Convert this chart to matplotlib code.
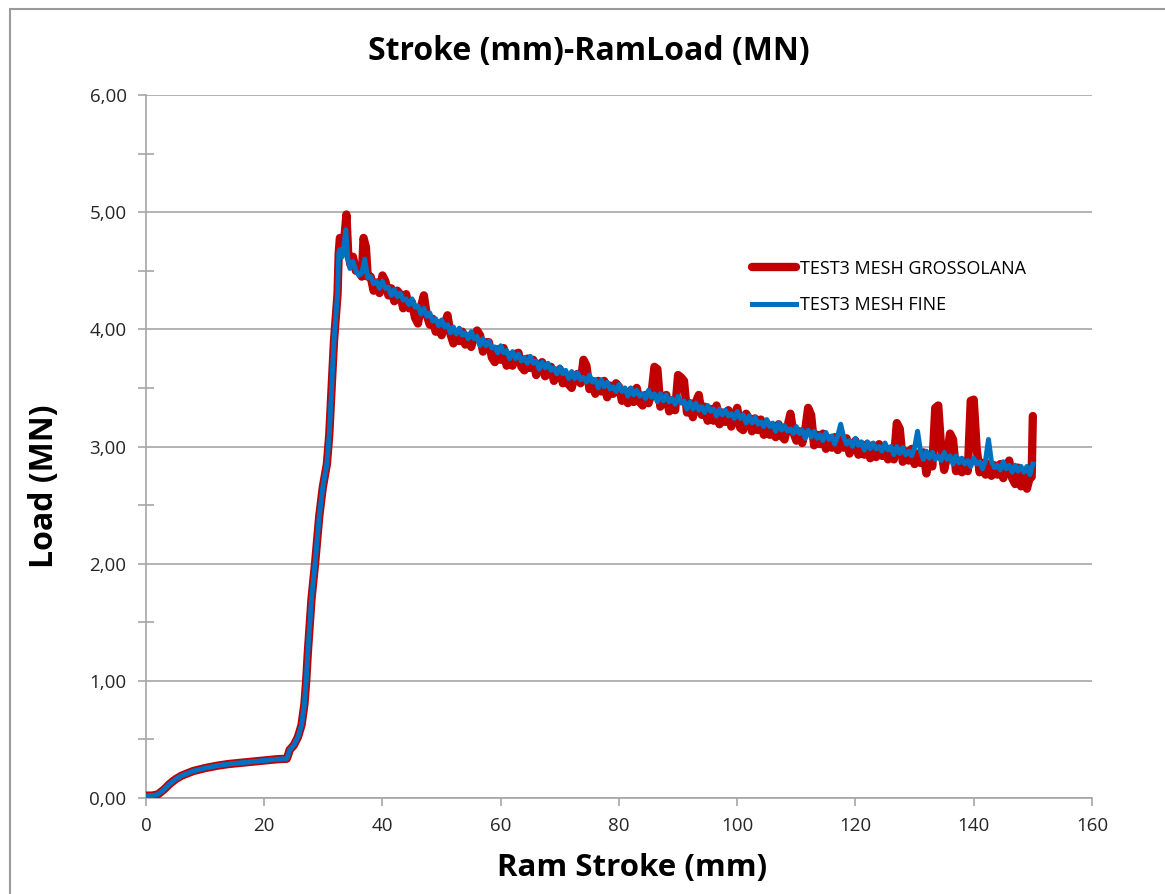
import matplotlib
matplotlib.use('Agg')
import numpy as np
import matplotlib.pyplot as plt
from matplotlib import font_manager
from matplotlib.patches import Rectangle
from matplotlib.ticker import MultipleLocator, FuncFormatter

# Chart text
title = 'Stroke (mm)-RamLoad (MN)'
x_label = 'Ram Stroke (mm)'
y_label = 'Load (MN)'
name_coarse = 'TEST3 MESH GROSSOLANA'
name_fine = 'TEST3 MESH FINE'

# Smooth part (both meshes)
head_x = [0, 1, 2, 3, 4, 5, 6, 7, 8, 10, 12, 14, 16, 18, 20, 22, 23.8, 24.0, 24.3,
          25.0, 25.7, 26.3, 26.8, 27.1, 27.4, 28.0, 28.6, 29.3, 29.9, 30.6, 31.0,
          31.4, 31.8, 32.1, 32.4, 32.6]
head_y = [0.02, 0.02, 0.03, 0.07, 0.12, 0.16, 0.19, 0.21, 0.23, 0.255, 0.275, 0.29,
          0.30, 0.31, 0.32, 0.33, 0.335, 0.36, 0.41, 0.45, 0.52, 0.62, 0.80, 1.00,
          1.26, 1.70, 2.00, 2.40, 2.65, 2.85, 3.10, 3.50, 3.90, 4.10, 4.30, 4.65]

# Peak region
coarse_peak_x = [32.8, 33.2, 33.6, 33.9, 34.2, 34.6, 35.0, 35.5, 36.0, 36.5, 36.8, 37.2, 37.5]
coarse_peak_y = [4.78, 4.72, 4.80, 4.98, 4.65, 4.55, 4.62, 4.50, 4.52, 4.45, 4.78, 4.70, 4.45]
fine_peak_x = [32.8, 33.2, 33.5, 33.8, 34.1, 34.5, 35.0, 35.5, 36.0, 36.5, 37.0, 37.5]
fine_peak_y = [4.68, 4.62, 4.72, 4.85, 4.62, 4.52, 4.58, 4.50, 4.46, 4.48, 4.60, 4.44]

# Decay region, sampled every 0.5 mm from 38 to 150 mm
tail_x = list(np.arange(38.0, 150.01, 0.5))
coarse_tail_y = [
    4.45, 4.33, 4.40, 4.31, 4.46, 4.41, 4.29, 4.35, 4.24, 4.33,   # 38
    4.30, 4.18, 4.30, 4.18, 4.23, 4.10, 4.05, 4.19, 4.29, 4.12,   # 43
    4.04, 4.09, 3.98, 4.05, 3.95, 4.04, 4.12, 3.96, 3.88, 3.97,   # 48
    3.90, 3.98, 3.87, 3.94, 3.85, 3.93, 3.99, 3.95, 3.81, 3.89,   # 53
    3.89, 3.76, 3.72, 3.83, 3.74, 3.84, 3.69, 3.78, 3.69, 3.79,   # 58
    3.80, 3.68, 3.65, 3.75, 3.67, 3.74, 3.61, 3.69, 3.72, 3.60,   # 63
    3.62, 3.68, 3.56, 3.64, 3.66, 3.54, 3.61, 3.53, 3.50, 3.60,   # 68
    3.62, 3.54, 3.74, 3.69, 3.49, 3.56, 3.45, 3.56, 3.47, 3.56,   # 73
    3.42, 3.52, 3.45, 3.54, 3.51, 3.39, 3.47, 3.37, 3.48, 3.38,   # 78
    3.50, 3.38, 3.35, 3.44, 3.37, 3.45, 3.68, 3.66, 3.34, 3.42,   # 83
    3.44, 3.30, 3.39, 3.31, 3.61, 3.59, 3.56, 3.29, 3.37, 3.25,   # 88
    3.38, 3.44, 3.27, 3.34, 3.22, 3.32, 3.22, 3.35, 3.19, 3.29,   # 93
    3.21, 3.31, 3.17, 3.26, 3.33, 3.16, 3.14, 3.28, 3.24, 3.13,   # 98
    3.24, 3.14, 3.23, 3.10, 3.20, 3.10, 3.17, 3.08, 3.19, 3.09,   # 103
    3.06, 3.17, 3.28, 3.12, 3.05, 3.13, 3.03, 3.14, 3.33, 3.27,   # 108
    3.01, 3.10, 3.02, 3.11, 2.98, 3.07, 2.99, 3.08, 2.97, 3.06,   # 113
    2.99, 3.07, 2.94, 3.02, 3.05, 2.93, 3.02, 2.93, 3.02, 2.90,   # 118
    3.01, 2.91, 3.02, 2.92, 2.98, 2.89, 2.98, 2.89, 3.20, 3.15,   # 123
    2.87, 2.96, 2.88, 2.98, 2.85, 2.94, 2.86, 2.95, 2.77, 2.91,   # 128
    2.83, 3.33, 3.35, 2.98, 2.80, 2.92, 3.11, 3.06, 2.79, 2.88,   # 133
    2.78, 2.87, 2.79, 3.39, 3.40, 2.98, 2.78, 2.86, 2.76, 2.85,   # 138
    2.75, 2.84, 2.76, 2.85, 2.73, 2.81, 2.88, 2.73, 2.68, 2.82,   # 143
    2.66, 2.76, 2.64, 2.74, 3.26,                                 # 148
]
fine_tail_y = [
    4.45, 4.39, 4.41, 4.35, 4.41, 4.35, 4.36, 4.29, 4.34, 4.28,   # 38
    4.31, 4.25, 4.26, 4.21, 4.26, 4.19, 4.20, 4.13, 4.18, 4.11,   # 43
    4.14, 4.07, 4.09, 4.03, 4.08, 4.02, 4.04, 3.97, 4.02, 3.96,   # 48
    4.01, 3.95, 3.97, 3.92, 3.98, 3.92, 3.94, 3.86, 3.92, 3.86,   # 53
    3.90, 3.84, 3.85, 3.80, 3.86, 3.80, 3.82, 3.75, 3.81, 3.75,   # 58
    3.79, 3.73, 3.76, 3.71, 3.77, 3.71, 3.73, 3.66, 3.72, 3.67,   # 63
    3.71, 3.65, 3.67, 3.62, 3.68, 3.62, 3.65, 3.58, 3.64, 3.58,   # 68
    3.63, 3.57, 3.59, 3.55, 3.61, 3.55, 3.57, 3.50, 3.57, 3.51,   # 73
    3.55, 3.49, 3.51, 3.47, 3.53, 3.47, 3.50, 3.43, 3.50, 3.44,   # 78
    3.48, 3.43, 3.45, 3.41, 3.48, 3.42, 3.45, 3.38, 3.45, 3.39,   # 83
    3.44, 3.38, 3.41, 3.36, 3.43, 3.37, 3.39, 3.32, 3.38, 3.32,   # 88
    3.37, 3.31, 3.34, 3.29, 3.35, 3.30, 3.32, 3.26, 3.32, 3.27,   # 93
    3.31, 3.26, 3.28, 3.24, 3.30, 3.24, 3.27, 3.20, 3.26, 3.20,   # 98
    3.25, 3.19, 3.21, 3.17, 3.23, 3.17, 3.20, 3.13, 3.20, 3.14,   # 103
    3.18, 3.13, 3.15, 3.11, 3.17, 3.11, 3.14, 3.07, 3.14, 3.08,   # 108
    3.13, 3.07, 3.10, 3.05, 3.12, 3.06, 3.09, 3.02, 3.09, 3.19,   # 113
    3.08, 3.02, 3.05, 3.00, 3.07, 3.01, 3.04, 2.97, 3.04, 2.98,   # 118
    3.03, 2.98, 3.00, 2.96, 3.03, 2.97, 3.00, 2.93, 3.00, 2.94,   # 123
    2.99, 2.93, 2.96, 2.92, 2.99, 3.13, 2.96, 2.89, 2.96, 2.90,   # 128
    2.95, 2.89, 2.92, 2.88, 2.95, 2.89, 2.92, 2.85, 2.92, 2.86,   # 133
    2.90, 2.85, 2.88, 2.83, 2.90, 2.85, 2.87, 2.81, 2.88, 3.06,   # 138
    2.87, 2.82, 2.84, 2.80, 2.87, 2.81, 2.84, 2.78, 2.84, 2.79,   # 143
    2.83, 2.78, 2.83, 2.76, 2.85,                                 # 148
]
# the coarse curve ends with a jump at 150 mm
coarse_end_x = [149.8, 150.0]
coarse_end_y = [2.74, 3.26]

x_ticks = [0, 20, 40, 60, 80, 100, 120, 140, 160]
y_ticks = [0, 1, 2, 3, 4, 5, 6]

coarse_x = head_x + coarse_peak_x + tail_x[:-1] + coarse_end_x
coarse_y = head_y + coarse_peak_y + coarse_tail_y[:-1] + coarse_end_y
fine_x = head_x + fine_peak_x + tail_x
fine_y = head_y + fine_peak_y + fine_tail_y

names = {f.name for f in font_manager.fontManager.ttflist}
if 'Liberation Sans Narrow' in names:
    FONT, k = 'Liberation Sans Narrow', 1.25
else:
    FONT, k = 'Open Sans', 1.0
plt.rcParams['font.family'] = [FONT, 'DejaVu Sans']

red = '#C00000'
blue = '#0070C0'
grey = '#A6A6A6'

fig = plt.figure(figsize=(11.65, 8.94), dpi=100)
ax = fig.add_axes([0.1253, 0.1074, 0.812, 0.7863])

ax.plot(coarse_x, coarse_y, color=red, lw=6.0,
        solid_capstyle='round', solid_joinstyle='round', label=name_coarse, zorder=3)
ax.plot(fine_x, fine_y, color=blue, lw=3.6,
        solid_joinstyle='round', label=name_fine, zorder=4)

ax.set_xlim(0, 160)
ax.set_ylim(0, 6)
ax.set_xticks(x_ticks)
ax.set_yticks(y_ticks)
ax.yaxis.set_minor_locator(MultipleLocator(0.5))
ax.yaxis.set_major_formatter(FuncFormatter(lambda v, p: f'{v:.2f}'.replace('.', ',')))

ax.grid(axis='y', which='major', color=grey, lw=1.2)
ax.set_axisbelow(True)
for s in ['top', 'right']:
    ax.spines[s].set_visible(False)
for s in ['left', 'bottom']:
    ax.spines[s].set_color(grey)
    ax.spines[s].set_linewidth(1.2)

ax.tick_params(axis='x', direction='out', length=6, width=1.2, color=grey,
               labelsize=13.5 * k, labelcolor='#262626', pad=8)
ax.tick_params(axis='y', which='major', direction='out', length=6, width=1.2,
               color=grey, labelsize=13.5 * k, labelcolor='#262626', pad=8)
ax.tick_params(axis='y', which='minor', direction='inout', length=11, width=1.2,
               color=grey)

ax.set_xlabel(x_label, fontsize=22.5 * k, fontweight='bold')
ax.xaxis.set_label_coords(0.514, -0.0996)
ax.xaxis.label.set_verticalalignment('center')
ax.set_ylabel(y_label, fontsize=23 * k, fontweight='bold')
ax.yaxis.set_label_coords(-0.1068, 0.444)
ax.yaxis.label.set_verticalalignment('center')
ax.yaxis.label.set_horizontalalignment('center')

fig.text(0.505, 0.942, title, fontsize=23 * k, fontweight='bold',
         ha='center', va='center')

ax.legend(loc='upper left', bbox_to_anchor=(0.641, 0.766), frameon=False,
          fontsize=13 * k, handlelength=2.4, handletextpad=0.25,
          labelspacing=1.05, borderpad=0, borderaxespad=0)

# outer chart frame
fig.patches.append(Rectangle((0.0082, -0.2), 1.5, 1.19, transform=fig.transFigure,
                             fill=False, edgecolor='#9a9a9a', lw=1.5))

fig.savefig('out.png', dpi=100)
